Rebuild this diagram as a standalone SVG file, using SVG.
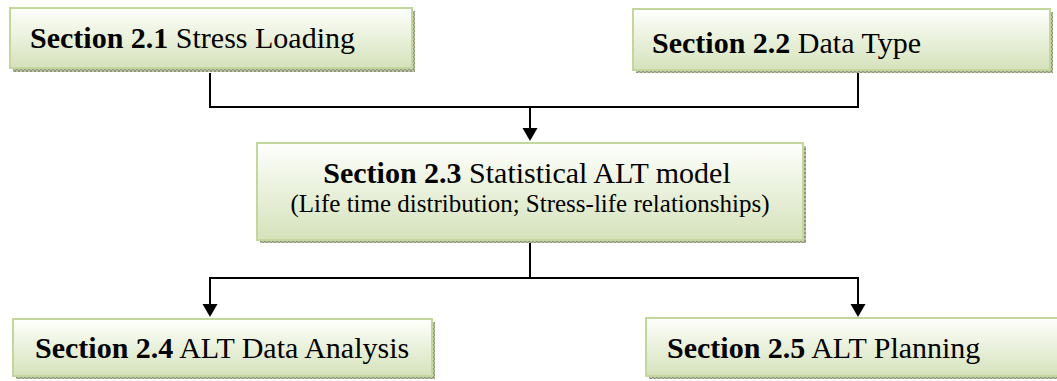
<svg xmlns="http://www.w3.org/2000/svg" width="1057" height="381" viewBox="0 0 1057 381">
  <style>
    .box { fill: url(#g); stroke: #c3d69b; stroke-width: 2; }
    .shadow { fill: url(#sh); }
    .t { font-family: "Liberation Serif", "Times New Roman", serif; font-size: 30px; fill: #000; }
    .sub { font-family: "Liberation Serif", "Times New Roman", serif; font-size: 25px; fill: #000; }
    .b { font-weight: bold; }
    .c { fill: none; stroke: #000; stroke-width: 2; }
  </style>
  <defs>
    <linearGradient id="g" x1="0" y1="0" x2="0" y2="1">
      <stop offset="0" stop-color="#fefffc"/>
      <stop offset="1" stop-color="#d5e2bb"/>
    </linearGradient>
    <pattern id="sh" width="4" height="4" patternUnits="userSpaceOnUse">
      <rect width="4" height="4" fill="#b9bfa8"/>
      <rect width="2" height="2" fill="#8f9878"/>
      <rect x="2" y="2" width="2" height="2" fill="#8f9878"/>
    </pattern>
    <marker id="arr" markerWidth="15" markerHeight="13" refX="7.5" refY="13" orient="auto" markerUnits="userSpaceOnUse" viewBox="0 0 15 13">
      <path d="M0,0 L15,0 L7.5,13 Z" fill="#000"/>
    </marker>
  </defs>

  <g id="connectors">
    <polyline class="c" points="210,73 210,107 858,107 858,73"/>
    <line class="c" x1="530" y1="107" x2="530" y2="128"/>
    <path d="M522.5,128 L537.5,128 L530,141 Z" fill="#000"/>
    <polyline class="c" points="530,243 530,278"/>
    <polyline class="c" points="210,304 210,278 858,278 858,304"/>
    <path d="M202.5,304 L217.5,304 L210,317 Z" fill="#000"/>
    <path d="M850.5,304 L865.5,304 L858,317 Z" fill="#000"/>
  </g>

  <g id="node-2-1">
    <rect class="shadow" x="13" y="11" width="402" height="61"/>
    <rect class="box" x="10" y="8" width="402" height="60"/>
    <text class="t" x="30" y="48"><tspan class="b">Section 2.1</tspan> Stress Loading</text>
  </g>

  <g id="node-2-2">
    <rect class="shadow" x="636" y="12" width="417" height="61"/>
    <rect class="box" x="633" y="9" width="417" height="61"/>
    <text class="t" x="652" y="53"><tspan class="b">Section 2.2</tspan> Data Type</text>
  </g>

  <g id="node-2-3">
    <rect class="shadow" x="260" y="146" width="546" height="97"/>
    <rect class="box" x="257" y="143" width="546" height="97"/>
    <text class="t" x="527" y="183" text-anchor="middle"><tspan class="b">Section 2.3</tspan> Statistical ALT model</text>
    <text class="sub" x="530" y="212" text-anchor="middle">(Life time distribution; Stress-life relationships)</text>
  </g>

  <g id="node-2-4">
    <rect class="shadow" x="16" y="322" width="419" height="57"/>
    <rect class="box" x="13" y="319" width="419" height="57"/>
    <text class="t" x="35" y="358"><tspan class="b">Section 2.4</tspan> ALT Data Analysis</text>
  </g>

  <g id="node-2-5">
    <rect class="shadow" x="649" y="321" width="420" height="58"/>
    <rect class="box" x="646" y="318" width="420" height="58"/>
    <text class="t" x="667" y="358"><tspan class="b">Section 2.5</tspan> ALT Planning</text>
  </g>
</svg>
